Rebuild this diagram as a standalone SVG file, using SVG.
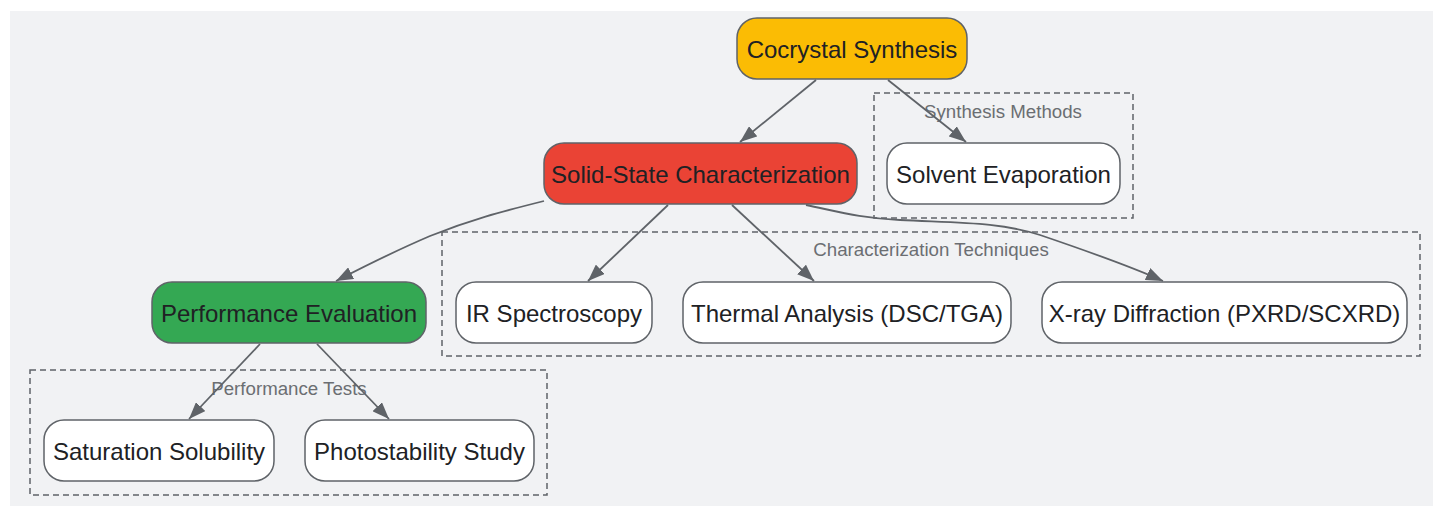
<svg xmlns="http://www.w3.org/2000/svg" width="1433" height="506" viewBox="0 0 1433 506">
<defs>
<style>
.node rect{stroke:#5f6368;stroke-width:1.5}
.node text{font-family:"Liberation Sans",Arial,sans-serif;font-size:24px;fill:#202124;text-anchor:middle;dominant-baseline:central}
.cluster rect{fill:none;stroke:#5f6368;stroke-width:1.5;stroke-dasharray:6 4}
.cluster text{font-family:"Liberation Sans",Arial,sans-serif;font-size:18.7px;fill:#6b6e72;text-anchor:middle;dominant-baseline:central}
.edges path{fill:none;stroke:#5f6368;stroke-width:1.8}
</style>
<marker id="ah" viewBox="0 0 17 13" refX="17" refY="6.5" markerWidth="17" markerHeight="13" markerUnits="userSpaceOnUse" orient="auto">
<path d="M0,0 L17,6.5 L0,13 z" fill="#5f6368"/>
</marker>
</defs>
<rect x="10" y="11" width="1423" height="495" fill="#f1f2f4"/>
<g id="cluster-synthesis" class="cluster"><rect x="874" y="93" width="259" height="125"/><text x="1003" y="111">Synthesis Methods</text></g>
<g id="cluster-characterization" class="cluster"><rect x="442" y="232" width="978" height="124"/><text x="931" y="249">Characterization Techniques</text></g>
<g id="cluster-performance" class="cluster"><rect x="30" y="370" width="517" height="125"/><text x="289" y="388">Performance Tests</text></g>
<g class="edges">
<path d="M816,80 L740,142" marker-end="url(#ah)"/>
<path d="M888,80 L966,142" marker-end="url(#ah)"/>
<path d="M668,205 L588,281" marker-end="url(#ah)"/>
<path d="M732,205 L814,281" marker-end="url(#ah)"/>
<path d="M806,205 C840,212 860,218 900,220 C960,223 1000,222 1040,235 C1090,252 1130,266 1163,281" marker-end="url(#ah)"/>
<path d="M544,201 C500,212 470,220 430,236 C395,251 365,266 336,281" marker-end="url(#ah)"/>
<path d="M260,344 L189,419" marker-end="url(#ah)"/>
<path d="M317,344 L389,419" marker-end="url(#ah)"/>
</g>
<g id="cocrystal-synthesis" class="node"><rect x="737" y="18" width="230" height="61" rx="20" fill="#fbbc04"/><text x="852" y="49">Cocrystal Synthesis</text></g>
<g id="solid-state-characterization" class="node"><rect x="544" y="143" width="313" height="61" rx="20" fill="#ea4335"/><text x="700.5" y="174">Solid-State Characterization</text></g>
<g id="solvent-evaporation" class="node"><rect x="887" y="143" width="233" height="61" rx="20" fill="#ffffff"/><text x="1003.5" y="174">Solvent Evaporation</text></g>
<g id="ir-spectroscopy" class="node"><rect x="456" y="282" width="196" height="61" rx="20" fill="#ffffff"/><text x="554" y="313">IR Spectroscopy</text></g>
<g id="thermal-analysis" class="node"><rect x="683" y="282" width="328" height="61" rx="20" fill="#ffffff"/><text x="847" y="313">Thermal Analysis (DSC/TGA)</text></g>
<g id="x-ray-diffraction" class="node"><rect x="1042" y="282" width="365" height="61" rx="20" fill="#ffffff"/><text x="1224.5" y="313">X-ray Diffraction (PXRD/SCXRD)</text></g>
<g id="performance-evaluation" class="node"><rect x="152" y="282" width="274" height="61" rx="20" fill="#34a853"/><text x="289" y="313">Performance Evaluation</text></g>
<g id="saturation-solubility" class="node"><rect x="44" y="420" width="230" height="61" rx="20" fill="#ffffff"/><text x="159" y="451">Saturation Solubility</text></g>
<g id="photostability-study" class="node"><rect x="305" y="420" width="229" height="61" rx="20" fill="#ffffff"/><text x="419.5" y="451">Photostability Study</text></g>
</svg>
